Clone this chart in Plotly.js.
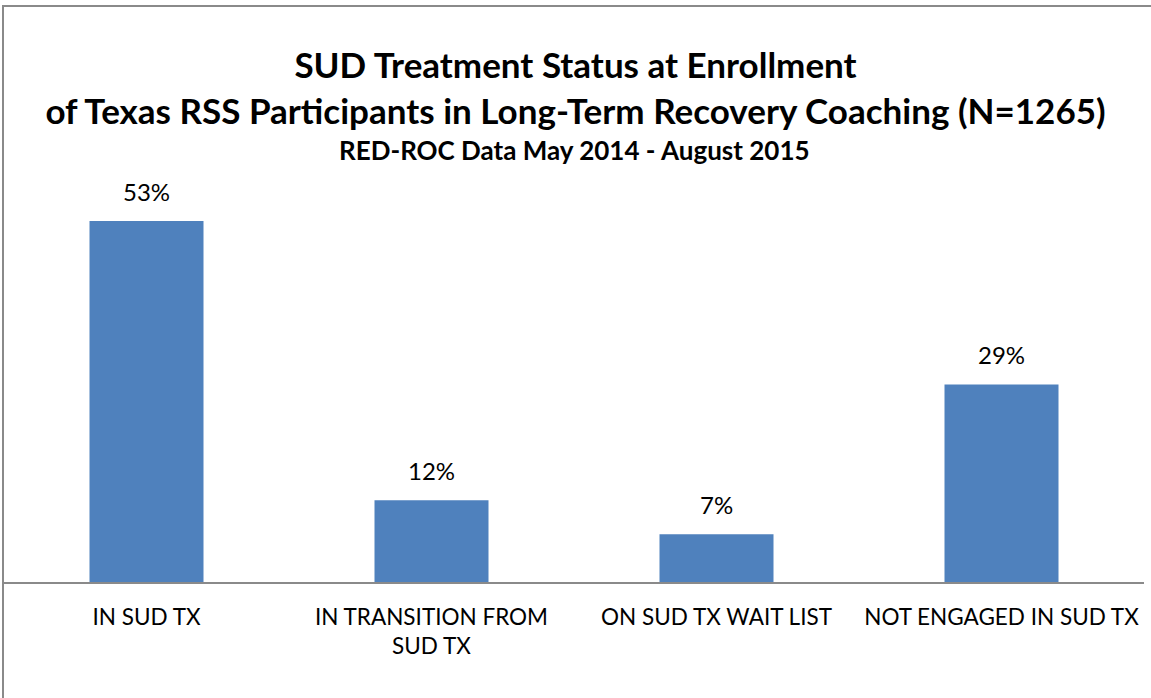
<!DOCTYPE html>
<html>
<head>
<meta charset="utf-8">
<script src="https://cdn.plot.ly/plotly-3.0.1.min.js"></script>
<style>
  html, body { margin: 0; padding: 0; background: #fff; overflow: hidden; }
  #chart { position: absolute; left: 0; top: 0; width: 1151px; height: 698px; }
  #frame { position: absolute; left: 2px; top: 5px; width: 1170px; height: 720px;
           border: 2px solid #8a8a8a; pointer-events: none; box-sizing: border-box; }
</style>
</head>
<body>
<div id="chart"></div>
<div id="frame"></div>
<script>
const categories = ["IN SUD TX", "IN TRANSITION FROM<br>SUD TX", "ON SUD TX WAIT LIST", "NOT ENGAGED IN SUD TX"];
const values = [53, 12, 7, 29];
const valueLabels = ["53%", "12%", "7%", "29%"];
const titleText = "SUD Treatment Status at Enrollment<br>of Texas RSS Participants in Long-Term Recovery Coaching (N=1265)";
const subtitleText = "RED-ROC Data May 2014 - August 2015";

const FONT = "Lato, 'Open Sans', sans-serif";

const trace = {
  type: "bar",
  x: categories,
  y: values,
  marker: { color: "#4F81BD", line: { width: 0 } },
  hoverinfo: "skip"
};

const annotations = categories.map((c, i) => ({
  x: c, y: values[i], xref: "x", yref: "y",
  text: valueLabels[i], showarrow: false,
  yanchor: "bottom", yshift: 13,
  font: { family: FONT, size: 24, color: "#000" }
}));
annotations.push({
  xref: "paper", yref: "paper", x: 0.5, y: 1, yanchor: "middle", yshift: 30,
  text: "<b>" + subtitleText + "</b>", showarrow: false,
  font: { family: FONT, size: 26, color: "#000" }
});

const layout = {
  width: 1151, height: 698,
  margin: { l: 4, r: 7, t: 180, b: 116, pad: 0 },
  paper_bgcolor: "#fff", plot_bgcolor: "#fff",
  showlegend: false,
  bargap: 0.6,
  title: {
    text: "<b>" + titleText + "</b>",
    x: 0.5, xanchor: "center",
    y: 1 - 78 / 698, yanchor: "middle", yref: "container",
    font: { family: FONT, size: 35, color: "#000" }
  },
  xaxis: {
    type: "category",
    showline: true, linecolor: "#8a8a8a", linewidth: 2,
    ticks: "", showgrid: false, zeroline: false,
    ticklabelstandoff: 14,
    tickfont: { family: FONT, size: 22.5, color: "#000" },
    fixedrange: true
  },
  yaxis: {
    range: [0, 59], visible: false, showgrid: false, zeroline: false, fixedrange: true
  },
  annotations: annotations
};

Plotly.newPlot("chart", [trace], layout, { displayModeBar: false, staticPlot: true });
</script>
</body>
</html>
